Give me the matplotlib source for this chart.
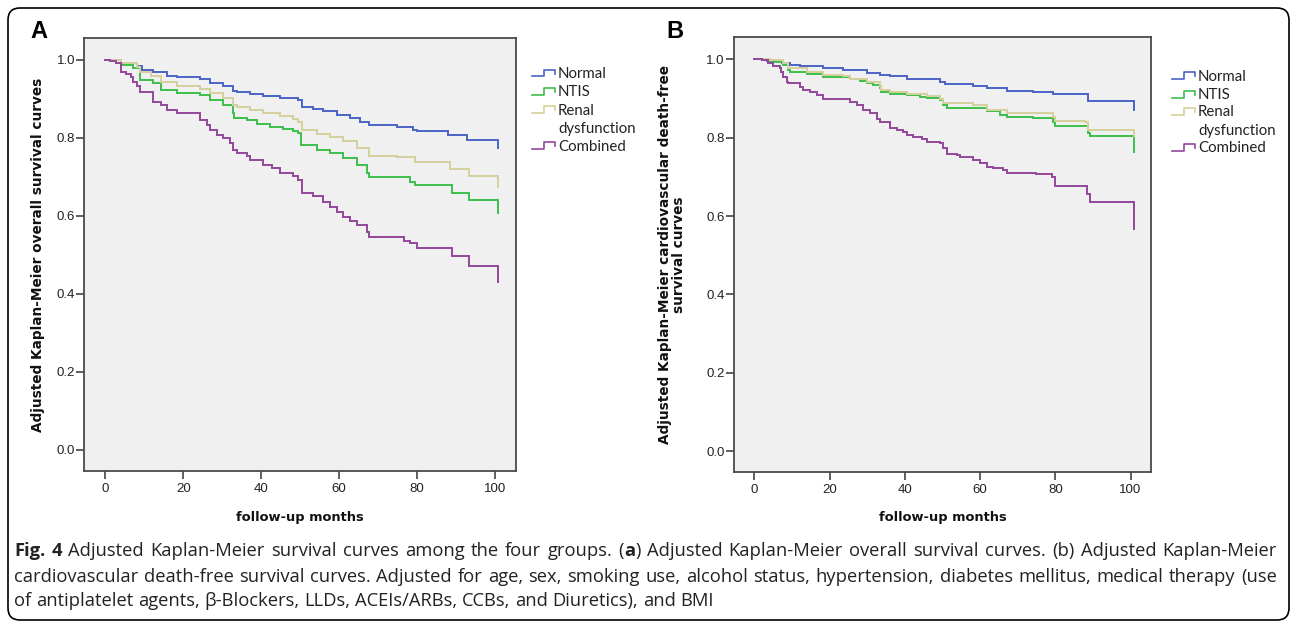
import matplotlib
matplotlib.use('Agg')
import matplotlib.pyplot as plt
from matplotlib import font_manager
from matplotlib.patches import FancyBboxPatch
from matplotlib.lines import Line2D

# ---------------- data ----------------
groups = ['Normal', 'NTIS', 'Renal\ndysfunction', 'Combined']
x_ticks = [0, 20, 40, 60, 80, 100]
y_ticks = [0.0, 0.2, 0.4, 0.6, 0.8, 1.0]
y_tick_labels = ['0.0', '0.2', '0.4', '0.6', '0.8', '1.0']
x_label = 'follow-up months'
y_label_a = 'Adjusted Kaplan-Meier overall survival curves'
y_label_b = 'Adjusted Kaplan-Meier cardiovascular death-free\nsurvival curves'

# Panel A: overall survival (time in months, survival after each step)
a_normal_t = [0, 4.1, 8.0, 9.3, 12.3, 15.7, 18.3, 24.3, 26.8, 30.3, 32.8, 33.7, 37.1, 40.6, 44.8, 49.6,
              50.4, 53.4, 56.0, 59.4, 62.8, 65.4, 67.6, 74.8, 79.1, 80.0, 88.1, 92.9, 101.0, 101.0]
a_normal_s = [1.0, 0.993, 0.985, 0.974, 0.968, 0.959, 0.957, 0.950, 0.942, 0.932, 0.921, 0.919, 0.913, 0.908,
              0.902, 0.896, 0.880, 0.874, 0.868, 0.859, 0.850, 0.842, 0.832, 0.827, 0.821, 0.818, 0.807, 0.795,
              0.795, 0.774]
a_ntis_t = [0, 4.1, 7.1, 8.9, 12.3, 14.4, 18.3, 24.3, 26.8, 30.3, 32.8, 33.0, 36.3, 38.9, 42.3, 45.7, 48.3,
            49.6, 50.2, 54.3, 57.7, 61.1, 64.6, 67.1, 67.6, 78.3, 79.6, 89.0, 93.3, 101.0, 101.0]
a_ntis_s = [1.0, 0.987, 0.979, 0.949, 0.940, 0.923, 0.916, 0.910, 0.897, 0.885, 0.865, 0.850, 0.846, 0.836,
            0.829, 0.822, 0.819, 0.812, 0.782, 0.769, 0.761, 0.748, 0.731, 0.709, 0.699, 0.688, 0.679, 0.658,
            0.641, 0.641, 0.607]
a_renal_t = [0, 4.1, 8.0, 8.9, 11.8, 14.4, 18.3, 24.3, 26.8, 30.3, 32.8, 33.7, 37.1, 40.6, 44.8, 48.3, 49.6,
             50.4, 54.3, 57.7, 61.1, 64.6, 67.6, 74.8, 79.6, 88.6, 93.3, 101.0, 101.0]
a_renal_s = [1.0, 0.991, 0.983, 0.968, 0.959, 0.944, 0.933, 0.925, 0.915, 0.902, 0.885, 0.879, 0.872, 0.863,
             0.855, 0.848, 0.842, 0.821, 0.810, 0.802, 0.791, 0.774, 0.754, 0.750, 0.739, 0.720, 0.703, 0.703,
             0.675]
a_comb_t = [0, 1.1, 2.8, 4.1, 5.4, 6.7, 7.1, 8.0, 8.9, 12.3, 14.4, 15.7, 18.3, 24.3, 26.0, 26.8, 28.6, 30.3,
            32.0, 32.8, 33.7, 36.3, 37.1, 40.6, 42.7, 44.8, 48.3, 49.6, 50.4, 53.4, 56.0, 57.7, 59.4, 61.1,
            62.8, 64.6, 67.1, 67.6, 76.6, 78.3, 80.0, 89.0, 93.3, 101.0, 101.0]
a_comb_s = [1.0, 0.996, 0.991, 0.968, 0.964, 0.957, 0.944, 0.932, 0.919, 0.893, 0.885, 0.872, 0.863, 0.846,
            0.833, 0.821, 0.808, 0.799, 0.786, 0.769, 0.761, 0.754, 0.744, 0.731, 0.722, 0.709, 0.703, 0.692,
            0.658, 0.650, 0.637, 0.624, 0.611, 0.598, 0.588, 0.577, 0.560, 0.547, 0.537, 0.530, 0.517, 0.497,
            0.472, 0.472, 0.431]

# Panel B: cardiovascular death-free survival
b_normal_t = [0, 3.3, 6.8, 7.3, 9.5, 12.1, 18.3, 23.6, 26.3, 29.9, 33.4, 36.1, 40.5, 45.8, 49.4, 50.7, 58.2,
              61.8, 67.1, 74.2, 79.5, 88.8, 101.0, 101.0]
b_normal_s = [1.0, 0.997, 0.994, 0.990, 0.985, 0.983, 0.977, 0.974, 0.973, 0.966, 0.960, 0.957, 0.951, 0.949,
              0.943, 0.936, 0.932, 0.926, 0.920, 0.917, 0.911, 0.894, 0.894, 0.871]
b_ntis_t = [0, 4.1, 7.7, 9.0, 9.5, 13.9, 18.3, 23.6, 25.4, 28.1, 29.9, 31.6, 33.4, 33.6, 36.1, 40.5, 44.0,
            45.8, 49.4, 50.2, 51.1, 58.2, 61.8, 65.3, 67.1, 74.2, 79.5, 79.9, 88.8, 89.2, 101.0, 101.0]
b_ntis_s = [1.0, 0.994, 0.985, 0.974, 0.968, 0.964, 0.956, 0.954, 0.949, 0.945, 0.940, 0.934, 0.926, 0.917,
            0.913, 0.909, 0.905, 0.901, 0.896, 0.884, 0.877, 0.875, 0.869, 0.858, 0.854, 0.850, 0.841, 0.830,
            0.811, 0.804, 0.804, 0.764]
b_renal_t = [0, 4.1, 7.7, 9.0, 13.9, 18.3, 23.6, 25.4, 29.9, 33.4, 33.6, 36.1, 40.5, 45.8, 49.4, 50.2, 58.2,
             61.8, 67.1, 74.2, 79.5, 79.9, 87.9, 88.8, 101.0, 101.0]
b_renal_s = [1.0, 0.998, 0.990, 0.977, 0.968, 0.960, 0.957, 0.951, 0.943, 0.932, 0.923, 0.917, 0.913, 0.906,
             0.900, 0.889, 0.883, 0.872, 0.864, 0.862, 0.854, 0.843, 0.841, 0.821, 0.821, 0.805]
b_comb_t = [0, 1.9, 3.7, 5.0, 6.8, 7.2, 7.7, 8.6, 9.0, 12.1, 13.0, 14.8, 16.6, 18.3, 23.6, 25.4, 27.2, 28.9,
            30.7, 32.5, 33.4, 36.1, 37.8, 39.6, 40.5, 42.3, 44.5, 45.8, 49.4, 50.2, 51.1, 53.8, 54.7, 58.2,
            60.0, 61.8, 63.5, 66.2, 67.1, 75.0, 79.0, 79.9, 88.3, 89.2, 101.0, 101.0]
b_comb_s = [1.0, 0.998, 0.991, 0.983, 0.977, 0.968, 0.956, 0.943, 0.939, 0.930, 0.923, 0.917, 0.909, 0.900,
            0.898, 0.892, 0.883, 0.872, 0.862, 0.849, 0.841, 0.824, 0.820, 0.815, 0.807, 0.801, 0.796, 0.790,
            0.787, 0.773, 0.758, 0.756, 0.750, 0.743, 0.735, 0.726, 0.722, 0.718, 0.709, 0.707, 0.700, 0.677,
            0.656, 0.637, 0.637, 0.566]

caption_lines = [
    [[('Fig.', 1)], [('4', 1)], [('Adjusted', 0)], [('Kaplan-Meier', 0)], [('survival', 0)], [('curves', 0)],
     [('among', 0)], [('the', 0)], [('four', 0)], [('groups.', 0)], [('(', 0), ('a', 1), (')', 0)],
     [('Adjusted', 0)], [('Kaplan-Meier', 0)], [('overall', 0)], [('survival', 0)], [('curves.', 0)],
     [('(b)', 0)], [('Adjusted', 0)], [('Kaplan-Meier', 0)]],
    'cardiovascular death-free survival curves. Adjusted for age, sex, smoking use, alcohol status, '
    'hypertension, diabetes mellitus, medical therapy (use',
    'of antiplatelet agents, \u03b2-Blockers, LLDs, ACEIs/ARBs, CCBs, and Diuretics), and BMI',
]

colors = ['#4a64c6', '#3dbf4c', '#d5d19c', '#92479a']

# ---------------- layout ----------------
W, H = 1290, 624
fig = plt.figure(figsize=(W / 100, H / 100), dpi=100)
fig.patch.set_facecolor('white')
renderer = fig.canvas.get_renderer()


def have(name):
    try:
        font_manager.findfont(font_manager.FontProperties(family=name), fallback_to_default=False)
        return True
    except Exception:
        return False


tick_family = 'Liberation Sans Narrow' if have('Liberation Sans Narrow') else 'Liberation Sans'
tick_size = 10.5 if tick_family == 'Liberation Sans Narrow' else 9.5
label_family = 'DejaVu Sans'
legend_family = 'Lato'
cap_family = 'Open Sans'


def fx(x):
    return x / W


def fy(y):
    return 1 - y / H


def width_px(s, **kw):
    t = fig.text(0, 0, s, **kw)
    w = t.get_window_extent(renderer).width
    t.remove()
    return w


def fit(s, target, **kw):
    return 10.0 * target / width_px(s, fontsize=10, **kw)


def make_axes(box, xlim, ylim):
    l, t, r, b = box
    ax = fig.add_axes([fx(l), fy(b), fx(r) - fx(l), fy(t) - fy(b)])
    ax.set_facecolor('#f0f0f0')
    ax.set_xlim(*xlim)
    ax.set_ylim(*ylim)
    for sp in ax.spines.values():
        sp.set_color('#4a4a4a')
        sp.set_linewidth(1.3)
    ax.set_xticks(x_ticks)
    ax.set_xticklabels([str(v) for v in x_ticks])
    ax.set_yticks(y_ticks)
    ax.set_yticklabels(y_tick_labels)
    ax.tick_params(axis='both', direction='out', length=5.5, width=1.1, color='#333333',
                   labelsize=tick_size, labelcolor='#222222')
    ax.tick_params(axis='x', pad=3)
    ax.tick_params(axis='y', pad=1)
    for lab in ax.get_xticklabels() + ax.get_yticklabels():
        lab.set_family(tick_family)
    return ax


ax_a = make_axes((84, 37.7, 516.4, 471), (-5.5, 105.6), (-0.054, 1.057))
ax_b = make_axes((733.7, 36.7, 1151.2, 472.3), (-5.5, 105.5), (-0.054, 1.058))

series_a = [(a_normal_t, a_normal_s), (a_ntis_t, a_ntis_s), (a_renal_t, a_renal_s), (a_comb_t, a_comb_s)]
series_b = [(b_normal_t, b_normal_s), (b_ntis_t, b_ntis_s), (b_renal_t, b_renal_s), (b_comb_t, b_comb_s)]
for ax, ser in ((ax_a, series_a), (ax_b, series_b)):
    for (t, s), c in zip(ser, colors):
        assert len(t) == len(s)
        ax.step(t, s, where='post', color=c, lw=1.4, solid_joinstyle='miter')

# axis labels
lab_size = fit(x_label, 128, family=label_family, weight='bold')
fig.text(fx(300), fy(517), x_label, ha='center', va='center', fontsize=lab_size,
         family=label_family, weight='bold', color='#111111')
fig.text(fx(942.5), fy(517), x_label, ha='center', va='center', fontsize=lab_size,
         family=label_family, weight='bold', color='#111111')
ylab_size = fit(y_label_a, 354, family=label_family, weight='bold')
fig.text(fx(38), fy(255), y_label_a, rotation=90, ha='center', va='center', fontsize=ylab_size,
         family=label_family, weight='bold', color='#111111')
fig.text(fx(672), fy(255), y_label_b, rotation=90, ha='center', va='center', fontsize=ylab_size,
         family=label_family, weight='bold', color='#111111', multialignment='center', linespacing=1.05)

# panel letters
fig.text(fx(38.5), fy(32), 'A', ha='center', va='center', fontsize=17, family='Liberation Sans',
         weight='bold', color='black')
fig.text(fx(675), fy(31), 'B', ha='center', va='center', fontsize=17, family='Liberation Sans',
         weight='bold', color='black')

# legends
leg_size = fit('dysfunction', 78, family=legend_family)


def legend(x0, ys):
    rows = [(ys[0], groups[0], colors[0]), (ys[1], groups[1], colors[1]),
            (ys[2], groups[2], colors[2]), (ys[4], groups[3], colors[3])]
    for y, name, c in rows:
        xs = [x0, x0 + 11.5, x0 + 11.5, x0 + 22.5, x0 + 22.5]
        yy = [y + 2.3, y + 2.3, y - 4.3, y - 4.3, y - 0.3]
        fig.add_artist(Line2D([fx(v) for v in xs], [fy(v) for v in yy], transform=fig.transFigure,
                              color=c, lw=1.2))
    for y, txt in zip(ys, ['Normal', 'NTIS', 'Renal', 'dysfunction', 'Combined']):
        fig.text(fx(x0 + 26), fy(y), txt, ha='left', va='center', fontsize=leg_size,
                 family=legend_family, color='#222222')


legend(532, [74, 92.3, 110.7, 129, 146.7])
legend(1172, [76.7, 95.3, 112.5, 130.5, 148.5])

# caption
cap_size = fit(caption_lines[2], 703, family=cap_family)
left, right = 14, 1277
baselines = [556, 582, 606]


def split_words(line):
    if isinstance(line, str):
        return [[(w, 0)] for w in line.split(' ')]
    return line


for i, line in enumerate(caption_lines):
    words = split_words(line)
    widths = []
    for w in words:
        widths.append(sum(width_px(p, fontsize=cap_size, family=cap_family,
                                   weight='bold' if b else 'normal') for p, b in w))
    space = width_px('a a', fontsize=cap_size, family=cap_family) - \
        2 * width_px('a', fontsize=cap_size, family=cap_family)
    if i < 2:
        space = (right - left - sum(widths)) / (len(words) - 1)
    x = left
    for w, wd in zip(words, widths):
        xp = x
        for p, b in w:
            fig.text(fx(xp), fy(baselines[i]), p, ha='left', va='baseline', fontsize=cap_size,
                     family=cap_family, weight='bold' if b else 'normal', color='#222222')
            xp += width_px(p, fontsize=cap_size, family=cap_family, weight='bold' if b else 'normal')
        x += wd + space

# border
border = FancyBboxPatch((8, H - 620), 1281, 612, boxstyle='round,pad=0,rounding_size=12',
                        transform=None, fill=False, edgecolor='black', lw=1.2)
fig.patches.append(border)

fig.savefig('out.png', dpi=100, facecolor='white')
